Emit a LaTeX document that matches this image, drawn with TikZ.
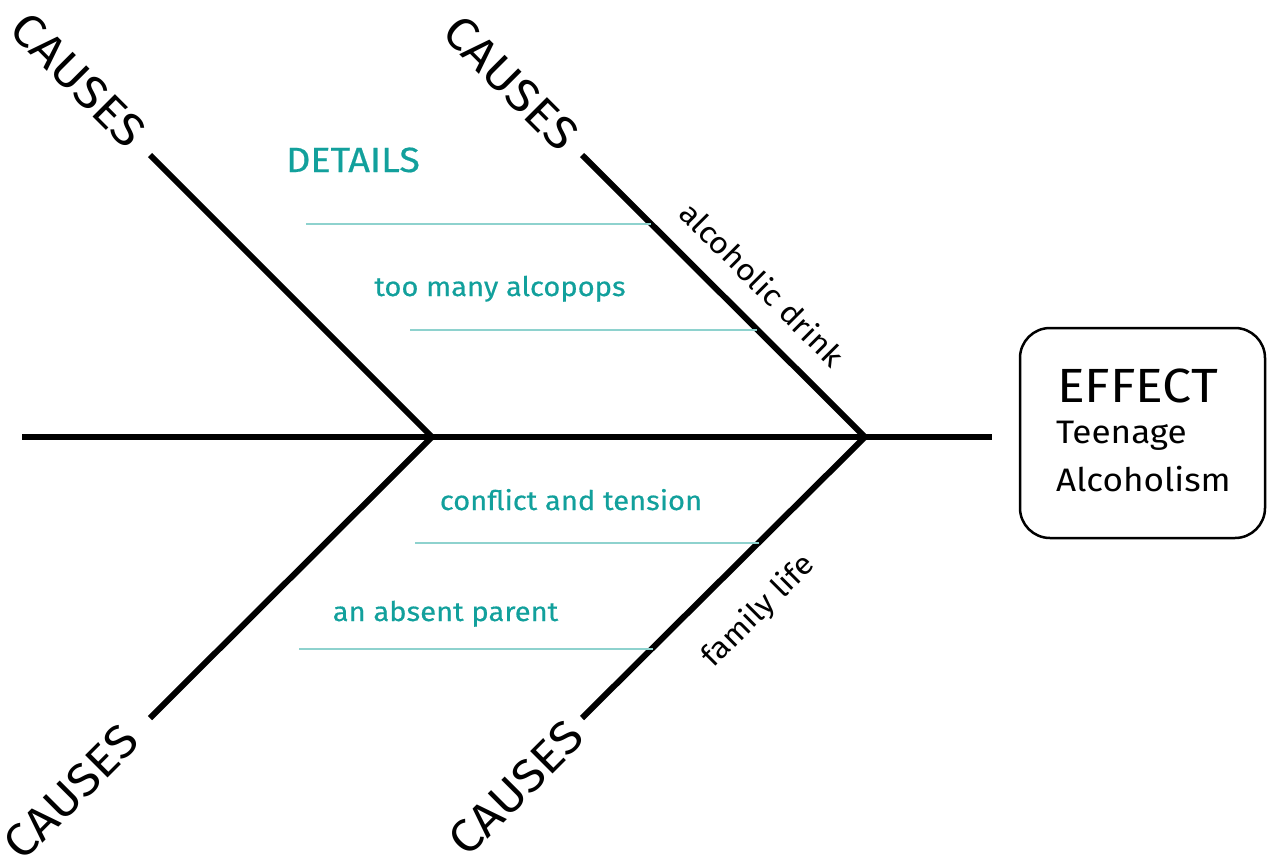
\documentclass[tikz,border=0pt]{standalone}
\usepackage{fontspec}
\setmainfont[FakeStretch=1.08]{Fira Sans}
\definecolor{tealtext}{HTML}{12A09C}
\definecolor{teallight}{HTML}{8ED2CE}
\tikzset{
  bone/.style={line width=6pt, black},
  detailline/.style={line width=2pt, teallight},
  causes/.style={font=\fontsize{46}{46}\selectfont, inner sep=0pt},
  detail/.style={font=\fontsize{27}{27}\selectfont\addfontfeature{FakeBold=0.5}, text=tealtext, inner sep=0pt, anchor=base},
  bonelabel/.style={font=\fontsize{30}{30}\selectfont, inner sep=0pt},
  effectbox/.style={draw, line width=2.5pt, rounded corners=30pt, minimum width=245pt, minimum height=210pt},
  effecttext/.style={anchor=base west, inner sep=0pt},
}
\begin{document}
\begin{tikzpicture}[x=1pt,y=-1pt]
\useasboundingbox (0,0) rectangle (1267,857);
% spine and joints
\coordinate (s0) at (22,437);
\coordinate (s1) at (992,437);
\coordinate (j1) at (432,437);
\coordinate (j2) at (865,437);
\coordinate (b1) at (150,155);
\coordinate (b2) at (582,155);
\coordinate (b3) at (150,718);
\coordinate (b4) at (582,718);
\draw[bone] (s0) -- (s1);
\draw[bone] (b1) -- (j1);
\draw[bone] (b2) -- (j2);
\draw[bone] (b3) -- (j1);
\draw[bone] (b4) -- (j2);
% detail lines
\coordinate (d1a) at (306,224); \coordinate (d1b) at (651,224);
\coordinate (d2a) at (410,330); \coordinate (d2b) at (757,330);
\coordinate (d3a) at (415,543); \coordinate (d3b) at (759,543);
\coordinate (d4a) at (299,649); \coordinate (d4b) at (653,649);
\draw[detailline] (d1a) -- (d1b);
\draw[detailline] (d2a) -- (d2b);
\draw[detailline] (d3a) -- (d3b);
\draw[detailline] (d4a) -- (d4b);
% causes labels
\node[causes, rotate=-45] (c1) at (78.5,80) {CAUSES};
\node[causes, rotate=-45] (c2) at (511,83) {CAUSES};
\node[causes, rotate=45] (c3) at (71,792) {CAUSES};
\node[causes, rotate=45] (c4) at (516,788) {CAUSES};
% details
\node[detail, font=\fontsize{35}{35}\selectfont\addfontfeature{FakeBold=0.5}] (det) at (353,172) {DETAILS};
\node[detail] (t1) at (500,296) {too many alcopops};
\node[detail] (t2) at (571,510) {conflict and tension};
\node[detail] (t3) at (445.5,621) {an absent parent};
% bone labels
\node[bonelabel, rotate=-45] (l1) at (762.5,284) {alcoholic drink};
\node[bonelabel, rotate=45] (l2) at (759,611.5) {family life};
% effect
\node[effectbox] (eff) at (1142.5,433) {};
\node[effecttext, font=\fontsize{48}{48}\selectfont] (effT) at (1057,402) {EFFECT};
\node[effecttext, font=\fontsize{32.5}{32.5}\selectfont] (effA) at (1056,443) {Teenage};
\node[effecttext, font=\fontsize{32.5}{32.5}\selectfont] (effB) at (1056,491) {Alcoholism};
\end{tikzpicture}
\end{document}
